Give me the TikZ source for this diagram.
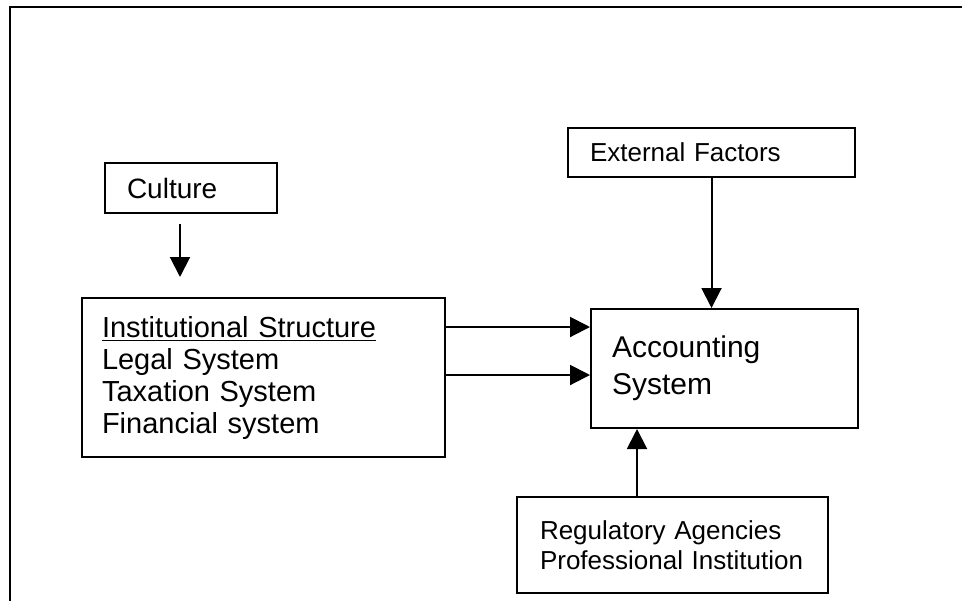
\documentclass[tikz,border=0pt]{standalone}
\usepackage{fontspec}
\setmainfont{Liberation Sans}
\usepackage{tikz}
\usetikzlibrary{arrows.meta}

\begin{document}
\begin{tikzpicture}[
        x=0.5pt, y=-0.5pt,
        box/.style={draw, line width=1pt, align=left, inner xsep=10pt, inner ysep=0pt},
        link/.style={line width=1pt, -{Triangle[length=10pt, width=10pt]}}
    ]
    \useasboundingbox (0,0) rectangle (962,601);
    \draw[line width=1.25pt] (10,601) -- (10,7) -- (962,7);

    \node[box, inner xsep=11pt, text width=64pt, minimum height=25pt,
        font=\fontsize{14}{16}\selectfont] (culture) at (191,188) {Culture};
    \node[box, inner xsep=11pt, text width=121.5pt, minimum height=24.5pt,
        font=\fontsize{13}{15}\selectfont] (external) at (711.5,152.5) {External Factors};
    \node[box, text width=161.5pt, minimum height=79.5pt,
        font=\fontsize{14.5}{16}\selectfont] (inst) at (263.5,377.5)
        {\underline{Institutional Structure}\\ Legal System\\ Taxation System\\ Financial system};
    \node[box, inner xsep=10.5pt, text width=112.5pt, minimum height=59.5pt,
        font=\fontsize{15}{18.5}\selectfont] (acc) at (724.5,368.5) {Accounting\\ System};
    \node[box, inner xsep=11.5pt, text width=132.5pt, minimum height=48pt,
        font=\fontsize{13}{15}\selectfont] (reg) at (672.5,545)
        {Regulatory Agencies\\ Professional Institution};

    \draw[link, shorten <=5pt, shorten >=10pt]
        ([xshift=-5.5pt]culture.south) -- ([xshift=-5.5pt]culture.south |- inst.north);
    \draw[link] ([yshift=25.25pt]inst.east) -- ([yshift=25.25pt]inst.east -| acc.west);
    \draw[link] ([yshift=1.25pt]inst.east) -- ([yshift=1.25pt]inst.east -| acc.west);
    \draw[link] (external.south) -- (external.south |- acc.north);
    \draw[link] ([xshift=-17.75pt]reg.north) -- ([xshift=-17.75pt]reg.north |- acc.south);
\end{tikzpicture}
\end{document}
